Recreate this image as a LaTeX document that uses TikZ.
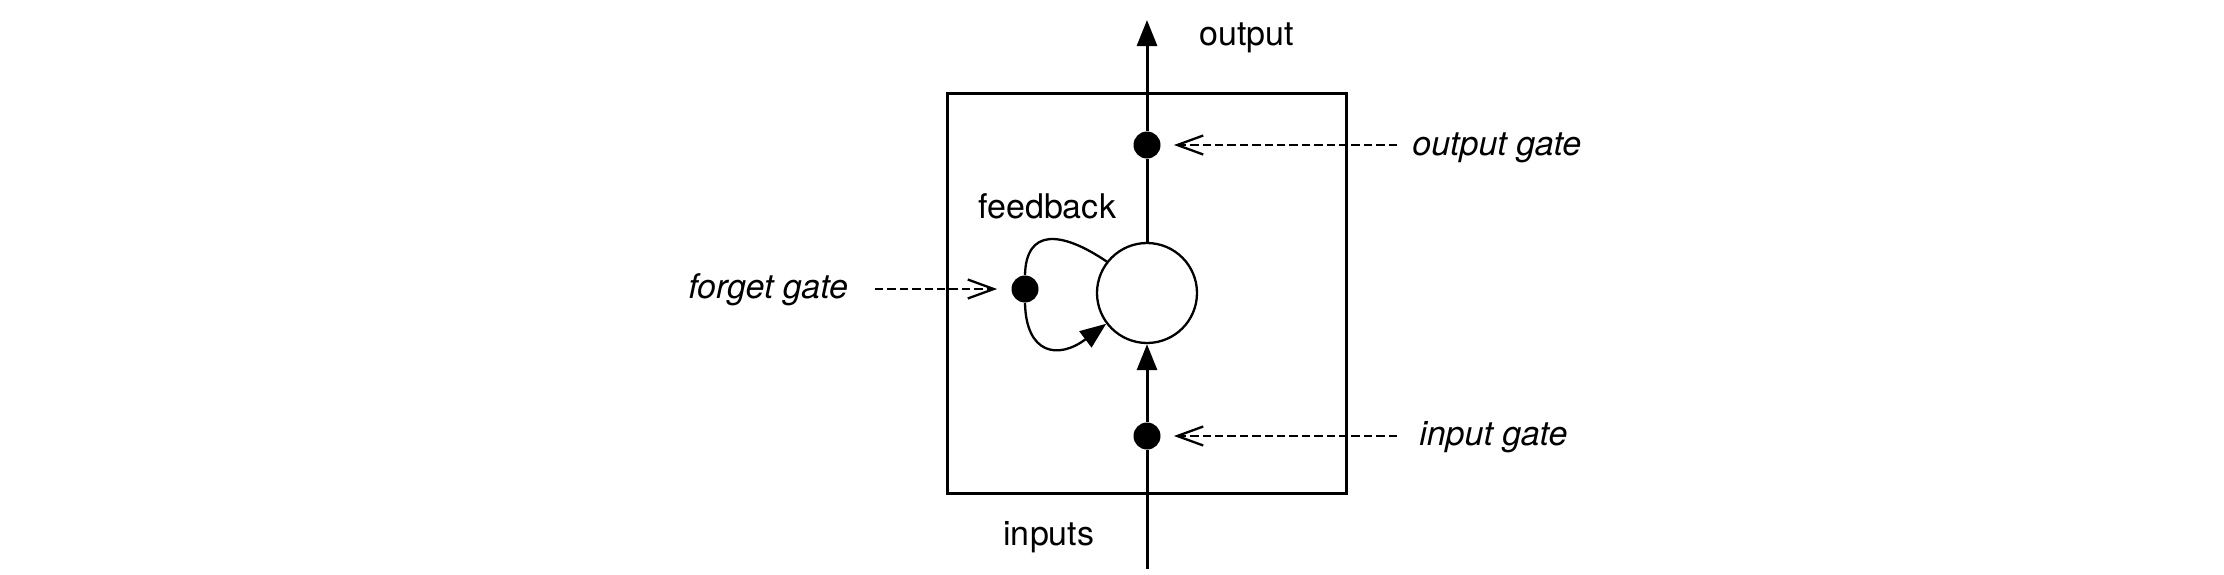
\documentclass[tikz,border=0pt]{standalone}
\usepackage{fontspec}
\setmainfont{TeX Gyre Heros}
\usetikzlibrary{arrows.meta}
\begin{document}
\begin{tikzpicture}[x=0.5pt,y=-0.5pt,
  solidline/.style={line width=1.5pt},
  thinline/.style={line width=1.15pt},
  fwd/.style={solidline,-{Triangle[length=13pt,width=10pt]}},
  loopfwd/.style={thinline,-{Triangle[length=13pt,width=10pt]}},
  gatearrow/.style={line width=1.15pt,dash pattern=on 4.2pt off 2pt,-{Straight Barb[length=13pt,width=9.5pt,line width=1.15pt]}},
  dot/.style={circle,fill=black,inner sep=0pt,minimum size=13.5pt},
  lbl/.style={font=\fontsize{17}{20}\selectfont,inner sep=0pt},
  glbl/.style={lbl,font=\fontsize{17}{20}\selectfont\itshape}
]
\useasboundingbox (0,0) rectangle (2224,574);
\node[draw,solidline,minimum width=199.5pt,minimum height=200pt,inner sep=0pt] (box) at (1147,293.3) {};
\node[draw,thinline,circle,minimum size=50pt,inner sep=0pt,fill=white] (cell) at (1147,293) {};
\node[dot] (og) at (1147,145) {};
\node[dot] (ig) at (1147,436) {};
\node[dot] (fg) at (1025,289) {};
\coordinate (top) at (1147,20);
\coordinate (bottom) at (1147,569);
\coordinate (ogsrc) at (1397,145);
\coordinate (igsrc) at (1397,436);
\coordinate (fgsrc) at (875,289);
% main path
\draw[solidline] (bottom) -- (ig);
\draw[fwd] (ig) -- (cell);
\draw[solidline] (cell) -- (og);
\draw[fwd] (og) -- (top);
% gates
\draw[gatearrow,shorten >=6.5pt] (ogsrc) -- (og);
\draw[gatearrow,shorten >=6.5pt] (igsrc) -- (ig);
\draw[gatearrow,shorten >=7pt] (fgsrc) -- (fg);
% feedback loop
\draw[thinline] (cell.142) .. controls (1060,230) and (1026,229) .. (fg.north);
\draw[loopfwd] (fg.south) .. controls (1026,354) and (1058,360) .. (cell.217);
% labels
\node[lbl,anchor=base west] (outlbl) at (1199,45) {output};
\node[lbl,anchor=base west] (fblbl) at (978,218) {feedback};
\node[lbl,anchor=base west] (inlbl) at (1003,545) {inputs};
\node[glbl,anchor=base west] (oglbl) at (1412,155) {output gate};
\node[glbl,anchor=base west] (iglbl) at (1419,445) {input gate};
\node[glbl,anchor=base west] (fglbl) at (688,298) {forget gate};
\end{tikzpicture}
\end{document}
